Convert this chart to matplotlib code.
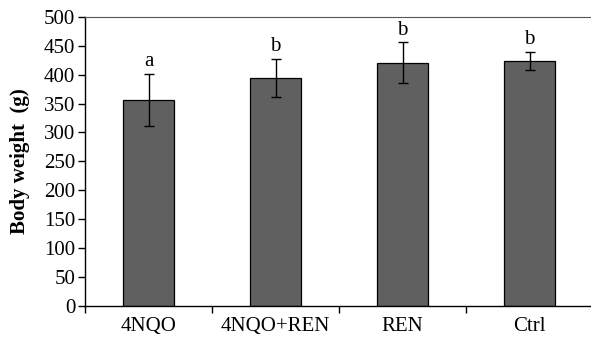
import numpy as np
import matplotlib.pyplot as plt

# Body weight per group (g), mean and SD
groups = ['4NQO', '4NQO+REN', 'REN', 'Ctrl']
weights = [357, 395, 421, 424]
errors = [45, 33, 35, 16]
letters = ['a', 'b', 'b', 'b']

plt.rcParams['font.family'] = ['Liberation Serif', 'DejaVu Serif']

fig = plt.figure(figsize=(5.91, 3.40), dpi=100)
ax = fig.add_axes([85 / 591, 1 - 305.7 / 340, 508 / 591, 288.7 / 340])

x = np.arange(len(groups))
ax.bar(x, weights, width=0.4, color='#606060', edgecolor='black', linewidth=0.9,
       yerr=errors, error_kw=dict(ecolor='black', elinewidth=1.0, capsize=3.5, capthick=1.0))

for xi, w, e, lab in zip(x, weights, errors, letters):
    ax.annotate(lab, (xi, w + e), xytext=(0, 2), textcoords='offset points',
                ha='center', va='bottom', fontsize=15)

ax.set_xlim(-0.5, len(groups) - 0.5)
ax.set_ylim(0, 500)
ax.set_yticks(np.arange(0, 501, 50))
ax.set_xticks(x)
ax.set_xticklabels(groups)
ax.set_xticks(np.arange(-0.5, len(groups), 1.0), minor=True)
ax.tick_params(axis='x', which='major', length=0, pad=8, labelsize=15)
ax.tick_params(axis='x', which='minor', length=5, width=1.0, direction='out')
ax.tick_params(axis='y', length=5, width=1.0, direction='out', labelsize=15, pad=2)

ax.set_ylabel('Body weight  (g)', fontsize=15, fontweight='bold', labelpad=10)

ax.spines['right'].set_visible(False)
ax.spines['top'].set_color('#555555')
ax.spines['left'].set_linewidth(1.0)
ax.spines['bottom'].set_linewidth(1.0)

fig.savefig('out.png', dpi=100)
